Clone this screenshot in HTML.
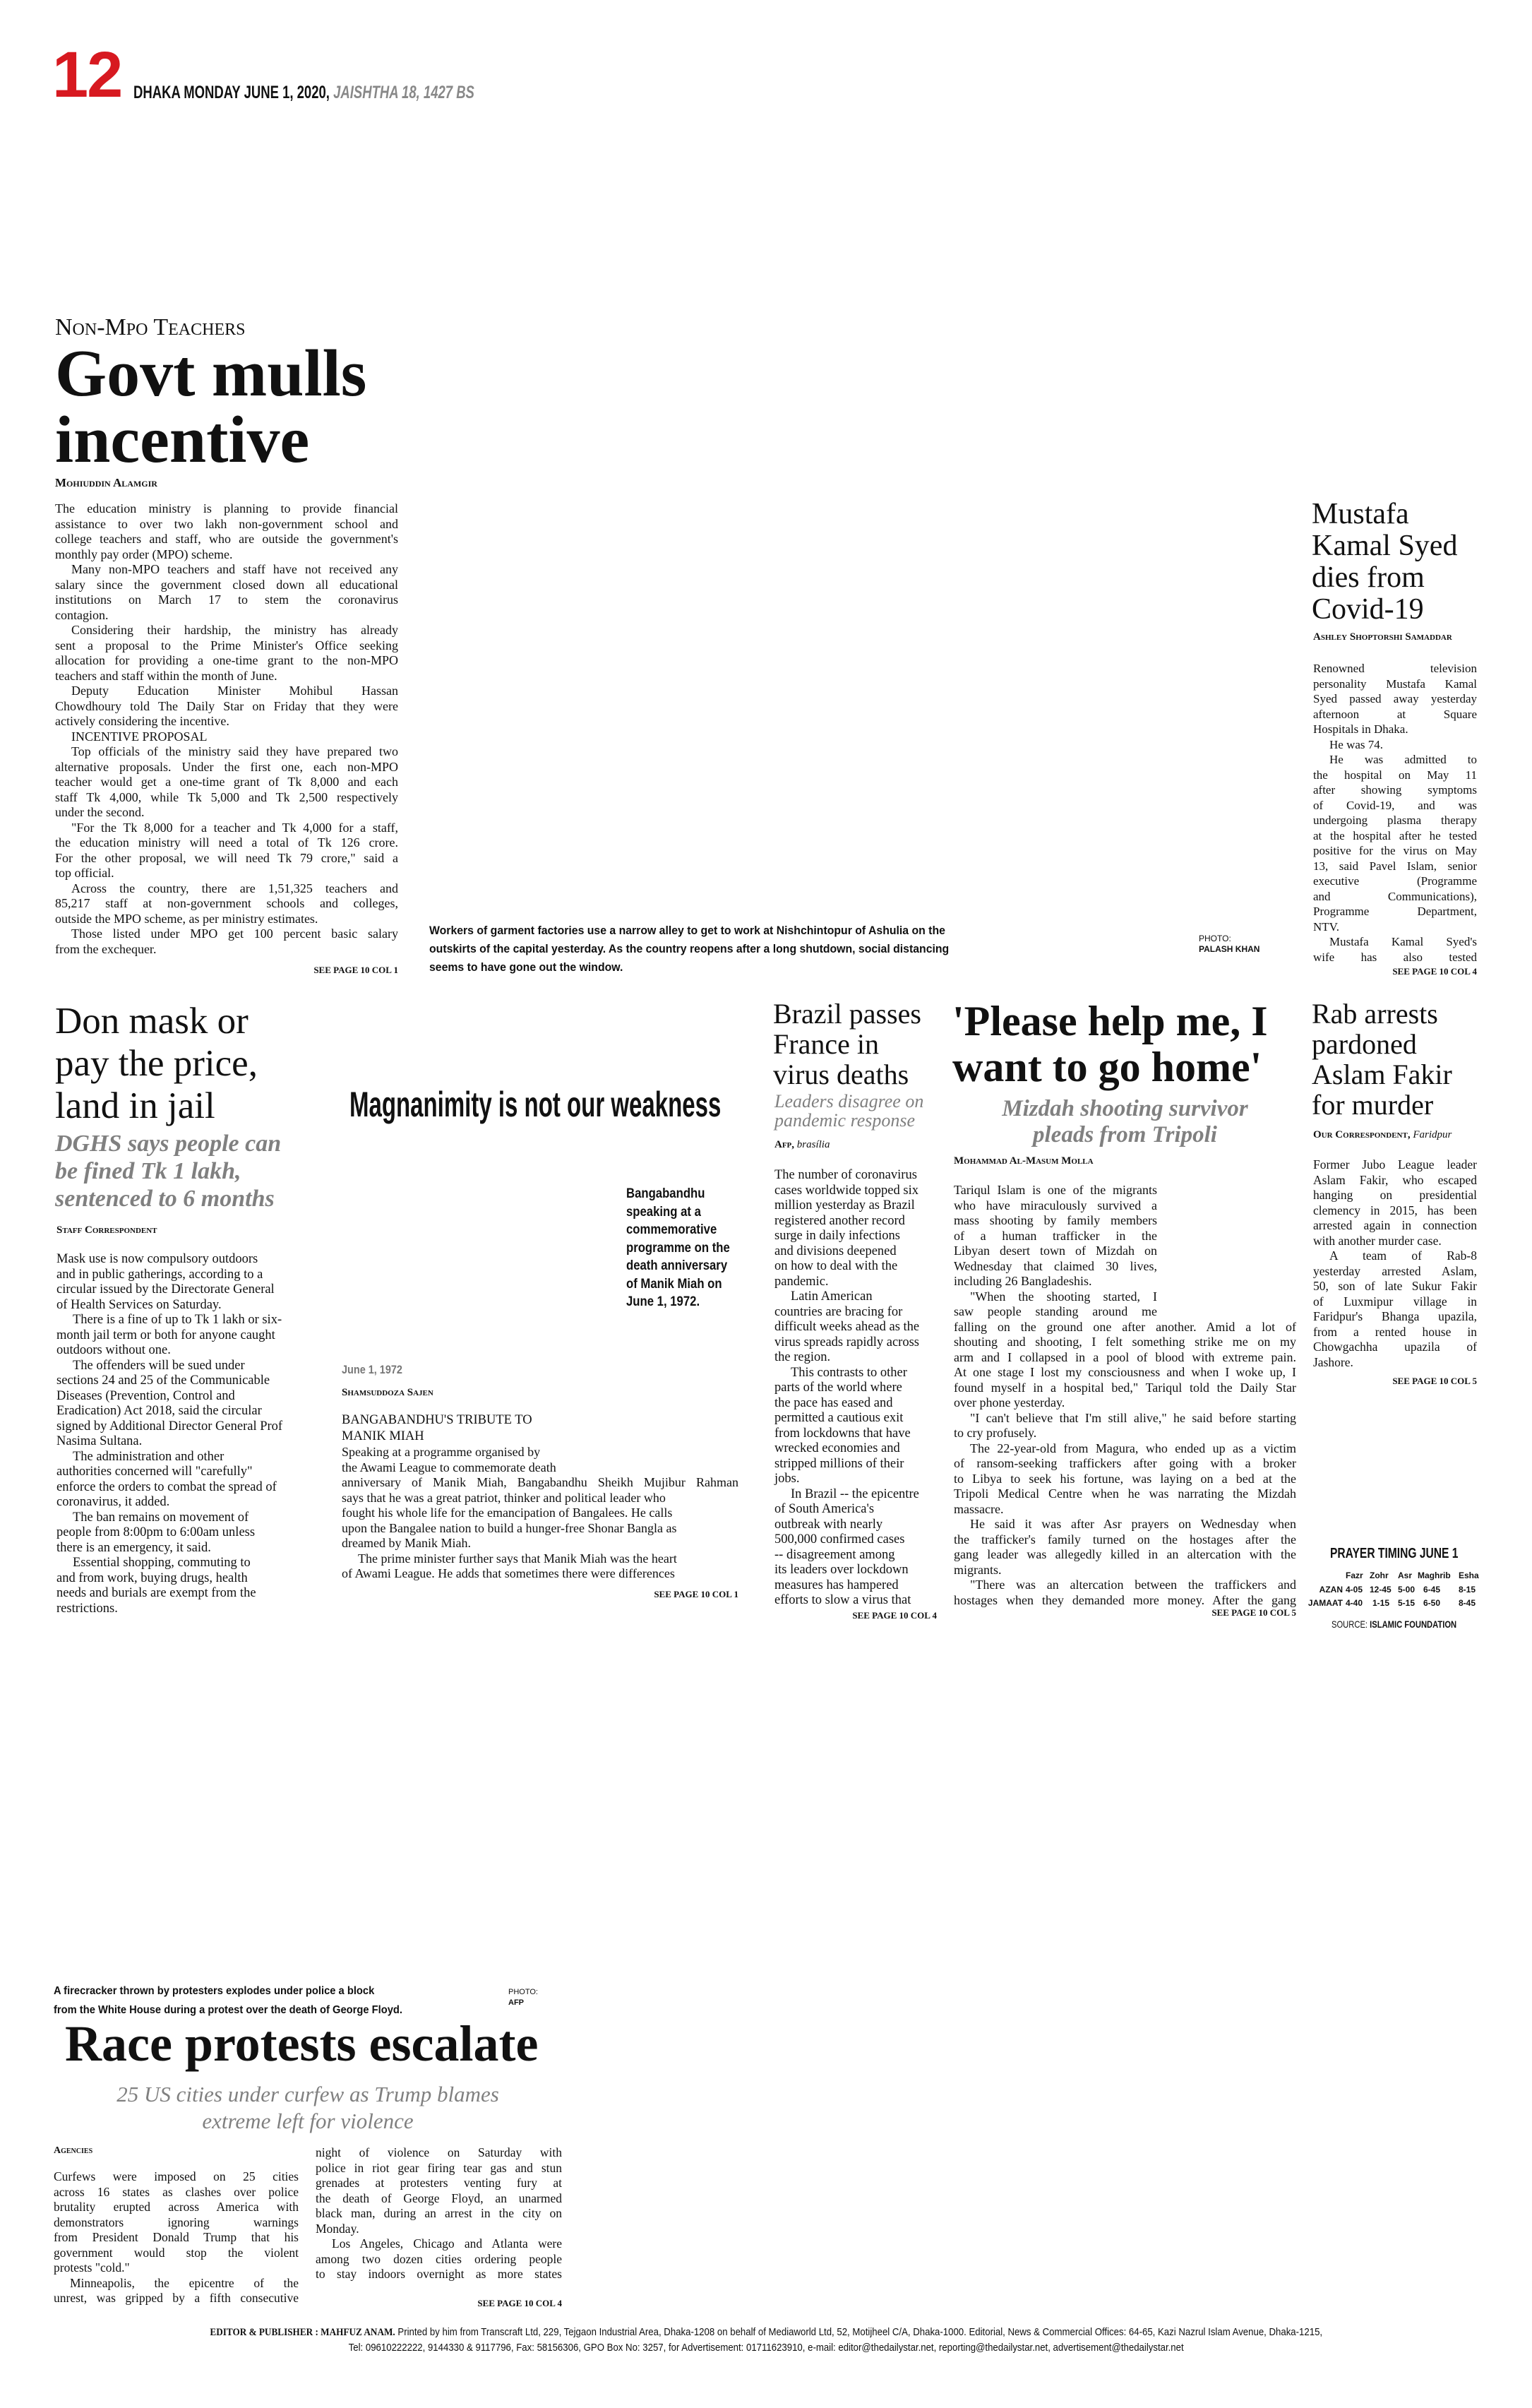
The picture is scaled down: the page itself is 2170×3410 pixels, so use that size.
<!DOCTYPE html>
<html><head><meta charset="utf-8">
<style>
*{margin:0;padding:0;box-sizing:border-box}
html,body{width:2170px;height:3410px;background:#fff;overflow:hidden;position:relative;color:#111}
.a{position:absolute}
.s{font-family:"Liberation Serif",serif}
.ss{font-family:"Liberation Sans",sans-serif}
.b{font-family:"Liberation Serif",serif;font-size:18px;line-height:21.5px;white-space:nowrap}
.b div{text-align:justify;text-align-last:justify}
.b div.e{text-align-last:left}
.b div.i{text-indent:23px}
.r{font-family:"Liberation Serif",serif;font-size:18.5px;line-height:21.5px;white-space:nowrap}
.r div.i{text-indent:23px}
.sc{font-family:"Liberation Serif",serif;font-variant:small-caps;font-weight:bold;font-size:17px;white-space:nowrap}
.see{font-family:"Liberation Serif",serif;font-weight:bold;font-size:13px;white-space:nowrap}
.hl{font-family:"Liberation Serif",serif;white-space:nowrap}
.gi{font-family:"Liberation Serif",serif;font-style:italic;font-weight:bold;color:#808080;white-space:nowrap}
.cap{font-family:"Liberation Sans",sans-serif;font-weight:bold;white-space:nowrap}
.cx{display:inline-block;transform-origin:0 0}
</style></head><body>

<!-- Masthead -->
<div class="a ss" style="left:74px;top:60px;font-size:92px;font-weight:bold;color:#d71920;line-height:92px;letter-spacing:-2px">12</div>
<div class="a ss" style="left:189px;top:117px;font-size:25px;font-weight:bold;line-height:28px;white-space:nowrap"><span class="cx" style="transform:scaleX(0.74)">DHAKA MONDAY JUNE 1, 2020, <i style="color:#888">JAISHTHA 18, 1427 BS</i></span></div>

<!-- Govt mulls incentive -->
<div class="a s" style="left:78px;top:446px;font-size:34px;font-variant:small-caps;line-height:36px;white-space:nowrap">Non-Mpo Teachers</div>
<div class="a hl" style="left:78px;top:482px;font-size:94px;font-weight:bold;line-height:94px">Govt mulls</div>
<div class="a hl" style="left:78px;top:576px;font-size:94px;font-weight:bold;line-height:94px">incentive</div>
<div class="a sc" style="left:78px;top:674px">Mohiuddin Alamgir</div>
<div class="a b" style="left:78px;top:710px;width:486px">
<div>The education ministry is planning to provide financial</div>
<div>assistance to over two lakh non-government school and</div>
<div>college teachers and staff, who are outside the government's</div>
<div class="e">monthly pay order (MPO) scheme.</div>
<div class="i">Many non-MPO teachers and staff have not received any</div>
<div>salary since the government closed down all educational</div>
<div>institutions on March 17 to stem the coronavirus</div>
<div class="e">contagion.</div>
<div class="i">Considering their hardship, the ministry has already</div>
<div>sent a proposal to the Prime Minister's Office seeking</div>
<div>allocation for providing a one-time grant to the non-MPO</div>
<div class="e">teachers and staff within the month of June.</div>
<div class="i">Deputy Education Minister Mohibul Hassan</div>
<div>Chowdhoury told The Daily Star on Friday that they were</div>
<div class="e">actively considering the incentive.</div>
<div class="i e">INCENTIVE PROPOSAL</div>
<div class="i">Top officials of the ministry said they have prepared two</div>
<div>alternative proposals. Under the first one, each non-MPO</div>
<div>teacher would get a one-time grant of Tk 8,000 and each</div>
<div>staff Tk 4,000, while Tk 5,000 and Tk 2,500 respectively</div>
<div class="e">under the second.</div>
<div class="i">"For the Tk 8,000 for a teacher and Tk 4,000 for a staff,</div>
<div>the education ministry will need a total of Tk 126 crore.</div>
<div>For the other proposal, we will need Tk 79 crore," said a</div>
<div class="e">top official.</div>
<div class="i">Across the country, there are 1,51,325 teachers and</div>
<div>85,217 staff at non-government schools and colleges,</div>
<div class="e">outside the MPO scheme, as per ministry estimates.</div>
<div class="i">Those listed under MPO get 100 percent basic salary</div>
<div class="e">from the exchequer.</div>
</div>
<div class="a see" style="left:364px;width:200px;text-align:right;top:1366px">SEE PAGE 10 COL 1</div>

<!-- photo caption -->
<div class="a cap" style="left:608px;top:1305px;font-size:17px;line-height:26px">
<span class="cx" style="transform:scaleX(0.93)">Workers of garment factories use a narrow alley to get to work at Nishchintopur of Ashulia on the<br>outskirts of the capital yesterday. As the country reopens after a long shutdown, social distancing<br>seems to have gone out the window.</span></div>
<div class="a ss" style="left:1698px;top:1322px;font-size:12px;line-height:15px;white-space:nowrap">PHOTO:<br><b>PALASH KHAN</b></div>

<!-- Mustafa Kamal Syed -->
<div class="a hl" style="left:1858px;top:706px;font-size:42px;line-height:45px">Mustafa<br>Kamal Syed<br>dies from<br>Covid-19</div>
<div class="a sc" style="left:1860px;top:894px;font-size:15px">Ashley Shoptorshi Samaddar</div>
<div class="a b" style="left:1860px;top:936px;width:232px;font-size:17px">
<div>Renowned television</div>
<div>personality Mustafa Kamal</div>
<div>Syed passed away yesterday</div>
<div>afternoon at Square</div>
<div class="e">Hospitals in Dhaka.</div>
<div class="i e">He was 74.</div>
<div class="i">He was admitted to</div>
<div>the hospital on May 11</div>
<div>after showing symptoms</div>
<div>of Covid-19, and was</div>
<div>undergoing plasma therapy</div>
<div>at the hospital after he tested</div>
<div>positive for the virus on May</div>
<div>13, said Pavel Islam, senior</div>
<div>executive (Programme</div>
<div>and Communications),</div>
<div>Programme Department,</div>
<div class="e">NTV.</div>
<div class="i">Mustafa Kamal Syed's</div>
<div>wife has also tested</div>
</div>
<div class="a see" style="left:1892px;width:200px;text-align:right;top:1368px">SEE PAGE 10 COL 4</div>

<!-- Don mask -->
<div class="a hl" style="left:78px;top:1416px;font-size:53px;line-height:60px">Don mask or<br>pay the price,<br>land in jail</div>
<div class="a gi" style="left:78px;top:1600px;font-size:34px;line-height:39px">DGHS says people can<br>be fined Tk 1 lakh,<br>sentenced to 6 months</div>
<div class="a sc" style="left:80px;top:1734px;font-size:15px">Staff Correspondent</div>
<div class="a r" style="left:80px;top:1773px">
<div>Mask use is now compulsory outdoors</div>
<div>and in public gatherings, according to a</div>
<div>circular issued by the Directorate General</div>
<div>of Health Services on Saturday.</div>
<div class="i">There is a fine of up to Tk 1 lakh or six-</div>
<div>month jail term or both for anyone caught</div>
<div>outdoors without one.</div>
<div class="i">The offenders will be sued under</div>
<div>sections 24 and 25 of the Communicable</div>
<div>Diseases (Prevention, Control and</div>
<div>Eradication) Act 2018, said the circular</div>
<div>signed by Additional Director General Prof</div>
<div>Nasima Sultana.</div>
<div class="i">The administration and other</div>
<div>authorities concerned will "carefully"</div>
<div>enforce the orders to combat the spread of</div>
<div>coronavirus, it added.</div>
<div class="i">The ban remains on movement of</div>
<div>people from 8:00pm to 6:00am unless</div>
<div>there is an emergency, it said.</div>
<div class="i">Essential shopping, commuting to</div>
<div>and from work, buying drugs, health</div>
<div>needs and burials are exempt from the</div>
<div>restrictions.</div>
</div>

<!-- Magnanimity -->
<div class="a ss" style="left:495px;top:1538px;font-size:50px;font-weight:bold;line-height:52px;white-space:nowrap"><span class="cx" style="transform:scaleX(0.66)">Magnanimity is not our weakness</span></div>
<div class="a cap" style="left:887px;top:1678px;font-size:19px;line-height:25.5px"><span class="cx" style="transform:scaleX(0.88)">Bangabandhu<br>speaking at a<br>commemorative<br>programme on the<br>death anniversary<br>of Manik Miah on<br>June 1, 1972.</span></div>
<div class="a cap" style="left:484px;top:1930px;font-size:17px;color:#777"><span class="cx" style="transform:scaleX(0.85)">June 1, 1972</span></div>
<div class="a sc" style="left:484px;top:1964px;font-size:15px">Shamsuddoza Sajen</div>
<div class="a r" style="left:484px;top:2000px;line-height:22.5px">BANGABANDHU'S TRIBUTE TO<br>MANIK MIAH</div>
<div class="a b" style="left:484px;top:2046px;width:562px">
<div class="e">Speaking at a programme organised by</div>
<div class="e">the Awami League to commemorate death</div>
<div>anniversary of Manik Miah, Bangabandhu Sheikh Mujibur Rahman</div>
<div class="e">says that he was a great patriot, thinker and political leader who</div>
<div class="e">fought his whole life for the emancipation of Bangalees. He calls</div>
<div class="e">upon the Bangalee nation to build a hunger-free Shonar Bangla as</div>
<div class="e">dreamed by Manik Miah.</div>
<div class="i e">The prime minister further says that Manik Miah was the heart</div>
<div class="e">of Awami League. He adds that sometimes there were differences</div>
</div>
<div class="a see" style="left:846px;width:200px;text-align:right;top:2250px">SEE PAGE 10 COL 1</div>

<!-- Brazil -->
<div class="a hl" style="left:1095px;top:1414px;font-size:40px;line-height:43px">Brazil passes<br>France in<br>virus deaths</div>
<div class="a s" style="left:1097px;top:1546px;font-size:26px;line-height:27px;font-style:italic;color:#808080;white-space:nowrap">Leaders disagree on<br>pandemic response</div>
<div class="a s" style="left:1097px;top:1613px;font-size:15px;white-space:nowrap"><b style="font-variant:small-caps">Afp,</b> <i>brasília</i></div>
<div class="a r" style="left:1097px;top:1654px;font-size:18.5px">
<div>The number of coronavirus</div>
<div>cases worldwide topped six</div>
<div>million yesterday as Brazil</div>
<div>registered another record</div>
<div>surge in daily infections</div>
<div>and divisions deepened</div>
<div>on how to deal with the</div>
<div>pandemic.</div>
<div class="i">Latin American</div>
<div>countries are bracing for</div>
<div>difficult weeks ahead as the</div>
<div>virus spreads rapidly across</div>
<div>the region.</div>
<div class="i">This contrasts to other</div>
<div>parts of the world where</div>
<div>the pace has eased and</div>
<div>permitted a cautious exit</div>
<div>from lockdowns that have</div>
<div>wrecked economies and</div>
<div>stripped millions of their</div>
<div>jobs.</div>
<div class="i">In Brazil -- the epicentre</div>
<div>of South America's</div>
<div>outbreak with nearly</div>
<div>500,000 confirmed cases</div>
<div>-- disagreement among</div>
<div>its leaders over lockdown</div>
<div>measures has hampered</div>
<div>efforts to slow a virus that</div>
</div>
<div class="a see" style="left:1127px;width:200px;text-align:right;top:2280px">SEE PAGE 10 COL 4</div>

<!-- Please help me -->
<div class="a hl" style="left:1349px;top:1414px;font-size:60px;font-weight:bold;line-height:65px">'Please help me, I<br>want to go home'</div>
<div class="a gi" style="left:1351px;width:485px;top:1552px;font-size:33px;line-height:37px;text-align:center">Mizdah shooting survivor<br>pleads from Tripoli</div>
<div class="a sc" style="left:1351px;top:1636px;font-size:15px">Mohammad Al-Masum Molla</div>
<div class="a b" style="left:1351px;top:1675px;width:485px">
<div style="width:288px">Tariqul Islam is one of the migrants</div>
<div style="width:288px">who have miraculously survived a</div>
<div style="width:288px">mass shooting by family members</div>
<div style="width:288px">of a human trafficker in the</div>
<div style="width:288px">Libyan desert town of Mizdah on</div>
<div style="width:288px">Wednesday that claimed 30 lives,</div>
<div style="width:288px" class="e">including 26 Bangladeshis.</div>
<div style="width:288px" class="i">"When the shooting started, I</div>
<div style="width:288px">saw people standing around me</div>
<div>falling on the ground one after another. Amid a lot of</div>
<div>shouting and shooting, I felt something strike me on my</div>
<div>arm and I collapsed in a pool of blood with extreme pain.</div>
<div>At one stage I lost my consciousness and when I woke up, I</div>
<div>found myself in a hospital bed," Tariqul told the Daily Star</div>
<div class="e">over phone yesterday.</div>
<div class="i">"I can't believe that I'm still alive," he said before starting</div>
<div class="e">to cry profusely.</div>
<div class="i">The 22-year-old from Magura, who ended up as a victim</div>
<div>of ransom-seeking traffickers after going with a broker</div>
<div>to Libya to seek his fortune, was laying on a bed at the</div>
<div>Tripoli Medical Centre when he was narrating the Mizdah</div>
<div class="e">massacre.</div>
<div class="i">He said it was after Asr prayers on Wednesday when</div>
<div>the trafficker's family turned on the hostages after the</div>
<div>gang leader was allegedly killed in an altercation with the</div>
<div class="e">migrants.</div>
<div class="i">"There was an altercation between the traffickers and</div>
<div>hostages when they demanded more money. After the gang</div>
</div>
<div class="a see" style="left:1636px;width:200px;text-align:right;top:2276px">SEE PAGE 10 COL 5</div>

<!-- Rab arrests -->
<div class="a hl" style="left:1858px;top:1414px;font-size:40px;line-height:43px">Rab arrests<br>pardoned<br>Aslam Fakir<br>for murder</div>
<div class="a s" style="left:1860px;top:1599px;font-size:15px;white-space:nowrap"><b style="font-variant:small-caps">Our Correspondent,</b> <i>Faridpur</i></div>
<div class="a b" style="left:1860px;top:1639px;width:232px;font-size:17.5px">
<div>Former Jubo League leader</div>
<div>Aslam Fakir, who escaped</div>
<div>hanging on presidential</div>
<div>clemency in 2015, has been</div>
<div>arrested again in connection</div>
<div class="e">with another murder case.</div>
<div class="i">A team of Rab-8</div>
<div>yesterday arrested Aslam,</div>
<div>50, son of late Sukur Fakir</div>
<div>of Luxmipur village in</div>
<div>Faridpur's Bhanga upazila,</div>
<div>from a rented house in</div>
<div>Chowgachha upazila of</div>
<div class="e">Jashore.</div>
</div>
<div class="a see" style="left:1892px;width:200px;text-align:right;top:1948px">SEE PAGE 10 COL 5</div>

<!-- Prayer timing -->
<div class="a cap" style="left:1884px;top:2189px;font-size:20px"><span class="cx" style="transform:scaleX(0.78)">PRAYER TIMING JUNE 1</span></div>
<div class="a cap" style="left:0;top:2222px;font-size:12px;line-height:19px;width:2170px">
<span class="a" style="left:1906px">Fazr</span><span class="a" style="left:1940px">Zohr</span><span class="a" style="left:1980px">Asr</span><span class="a" style="left:2008px">Maghrib</span><span class="a" style="left:2066px">Esha</span>
</div>
<div class="a cap" style="left:0;top:2242px;font-size:12px;line-height:19px;width:2170px">
<span class="a" style="left:1800px;width:102px;text-align:right">AZAN</span><span class="a" style="left:1906px">4-05</span><span class="a" style="left:1940px">12-45</span><span class="a" style="left:1980px">5-00</span><span class="a" style="left:2016px">6-45</span><span class="a" style="left:2066px">8-15</span>
</div>
<div class="a cap" style="left:0;top:2261px;font-size:12px;line-height:19px;width:2170px">
<span class="a" style="left:1800px;width:102px;text-align:right">JAMAAT</span><span class="a" style="left:1906px">4-40</span><span class="a" style="left:1944px">1-15</span><span class="a" style="left:1980px">5-15</span><span class="a" style="left:2016px">6-50</span><span class="a" style="left:2066px">8-45</span>
</div>
<div class="a ss" style="left:1886px;top:2292px;font-size:14px;white-space:nowrap"><span class="cx" style="transform:scaleX(0.8)">SOURCE: <b>ISLAMIC FOUNDATION</b></span></div>

<!-- Race protests -->
<div class="a cap" style="left:76px;top:2806px;font-size:16px;line-height:27px"><span class="cx" style="transform:scaleX(0.92)">A firecracker thrown by protesters explodes under police a block<br>from the White House during a protest over the death of George Floyd.</span></div>
<div class="a ss" style="left:720px;top:2814px;font-size:11px;line-height:15px;white-space:nowrap">PHOTO:<br><b>AFP</b></div>
<div class="a hl" style="left:92px;top:2856px;font-size:72px;font-weight:bold;line-height:76px">Race protests escalate</div>
<div class="a gi" style="left:76px;width:720px;top:2947px;font-size:31px;line-height:38px;text-align:center;font-weight:normal">25 US cities under curfew as Trump blames<br>extreme left for violence</div>
<div class="a sc" style="left:76px;top:3038px;font-size:14px">Agencies</div>
<div class="a b" style="left:76px;top:3072px;width:347px;font-size:17.5px">
<div>Curfews were imposed on 25 cities</div>
<div>across 16 states as clashes over police</div>
<div>brutality erupted across America with</div>
<div>demonstrators ignoring warnings</div>
<div>from President Donald Trump that his</div>
<div>government would stop the violent</div>
<div class="e">protests "cold."</div>
<div class="i">Minneapolis, the epicentre of the</div>
<div>unrest, was gripped by a fifth consecutive</div>
</div>
<div class="a b" style="left:447px;top:3038px;width:349px;font-size:17.5px">
<div>night of violence on Saturday with</div>
<div>police in riot gear firing tear gas and stun</div>
<div>grenades at protesters venting fury at</div>
<div>the death of George Floyd, an unarmed</div>
<div>black man, during an arrest in the city on</div>
<div class="e">Monday.</div>
<div class="i">Los Angeles, Chicago and Atlanta were</div>
<div>among two dozen cities ordering people</div>
<div>to stay indoors overnight as more states</div>
</div>
<div class="a see" style="left:596px;width:200px;text-align:right;top:3254px">SEE PAGE 10 COL 4</div>

<!-- Footer -->
<div class="a ss" style="left:0;width:2170px;top:3292px;font-size:15px;line-height:22px;text-align:center;white-space:nowrap"><span style="display:inline-block;transform:scaleX(0.88)"><b class="s">EDITOR &amp; PUBLISHER : MAHFUZ ANAM.</b> Printed by him from Transcraft Ltd, 229, Tejgaon Industrial Area, Dhaka-1208 on behalf of Mediaworld Ltd, 52, Motijheel C/A, Dhaka-1000. Editorial, News &amp; Commercial Offices: 64-65, Kazi Nazrul Islam Avenue, Dhaka-1215,</span></div>
<div class="a ss" style="left:0;width:2170px;top:3314px;font-size:15px;line-height:22px;text-align:center;white-space:nowrap"><span style="display:inline-block;transform:scaleX(0.88)">Tel: 09610222222, 9144330 &amp; 9117796, Fax: 58156306, GPO Box No: 3257, for Advertisement: 01711623910, e-mail: editor@thedailystar.net, reporting@thedailystar.net, advertisement@thedailystar.net</span></div>

</body></html>
